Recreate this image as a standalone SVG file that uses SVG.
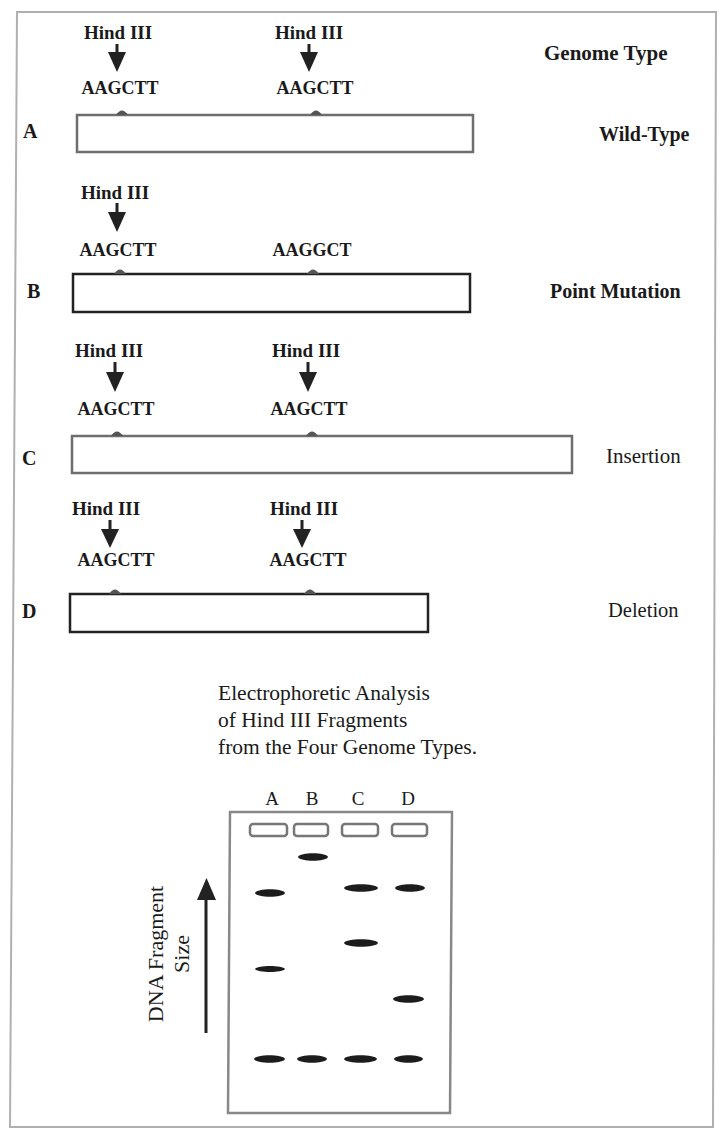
<svg xmlns="http://www.w3.org/2000/svg" width="722" height="1131" viewBox="0 0 722 1131">
<defs>
<style>
.t{font-family:"Liberation Serif","Times New Roman",serif;fill:#1a1a1a}
.b{font-weight:bold}
.site{font-family:"Liberation Serif","Times New Roman",serif;font-weight:bold;fill:#1a1a1a;text-anchor:middle}
.hind{font-size:19px}
.seq{font-size:18px}
.gen{fill:#fff;stroke-width:2.5}
.gray{stroke:#6e6e6e}
.dark{stroke:#222}
.bump{fill:#555}
.arr{fill:#222;stroke:none}
.shaft{stroke:#222;stroke-width:3}
.well{fill:#fff;stroke:#777;stroke-width:2.5}
.band{fill:#1c1c1c}
</style>
</defs>
<rect width="722" height="1131" fill="#fff"/>
<path d="M17,12 L716,12 L713,1127 L10,1127 Z" fill="none" stroke="#b0b0b0" stroke-width="2"/>

<g id="header">
<text class="t b" x="544" y="60" font-size="21">Genome Type</text>
</g>

<g id="genomeA">
<text class="t b" x="23" y="138" font-size="20">A</text>
<rect class="gen gray" x="77" y="115" width="396" height="37"/>
<path class="bump" d="M116,115 Q122,106 128,115 Z"/>
<path class="bump" d="M310,115 Q316,106 322,115 Z"/>
<text class="site hind" x="118" y="39">Hind III</text>
<text class="site hind" x="309" y="39">Hind III</text>
<text class="site seq" x="120" y="94">AAGCTT</text>
<text class="site seq" x="315" y="94">AAGCTT</text>
<text class="t b" x="599" y="141" font-size="20">Wild-Type</text>
</g>

<g id="genomeB">
<text class="t b" x="27" y="298" font-size="20">B</text>
<rect class="gen dark" x="73" y="274" width="397" height="38"/>
<path class="bump" d="M114,274 Q120,265 126,274 Z"/>
<path class="bump" d="M307,274 Q313,265 319,274 Z"/>
<text class="site hind" x="115" y="199">Hind III</text>
<text class="site seq" x="118" y="256">AAGCTT</text>
<text class="site seq" x="312" y="256">AAGGCT</text>
<text class="t b" x="550" y="298" font-size="20">Point Mutation</text>
</g>

<g id="genomeC">
<text class="t b" x="22" y="465" font-size="20">C</text>
<rect class="gen gray" x="72" y="436" width="500" height="37"/>
<path class="bump" d="M111,436 Q117,427 123,436 Z"/>
<path class="bump" d="M306,436 Q312,427 318,436 Z"/>
<text class="site hind" x="109" y="357">Hind III</text>
<text class="site hind" x="306" y="357">Hind III</text>
<text class="site seq" x="116" y="415">AAGCTT</text>
<text class="site seq" x="309" y="415">AAGCTT</text>
<text class="t" x="606" y="463" font-size="21">Insertion</text>
</g>

<g id="genomeD">
<text class="t b" x="22" y="618" font-size="20">D</text>
<rect class="gen dark" x="70" y="594" width="358" height="38"/>
<path class="bump" d="M109,594 Q115,585 121,594 Z"/>
<path class="bump" d="M304,594 Q310,585 316,594 Z"/>
<text class="site hind" x="106" y="515">Hind III</text>
<text class="site hind" x="304" y="515">Hind III</text>
<text class="site seq" x="116" y="566">AAGCTT</text>
<text class="site seq" x="308" y="566">AAGCTT</text>
<text class="t" x="608" y="617" font-size="20.5">Deletion</text>
</g>

<g id="connectors">
<line class="shaft" x1="117" y1="44" x2="117" y2="54"/><polygon class="arr" points="108,52 126,52 117,72"/>
<line class="shaft" x1="309" y1="44" x2="309" y2="54"/><polygon class="arr" points="300,52 318,52 309,72"/>
<line class="shaft" x1="117" y1="203" x2="117" y2="214"/><polygon class="arr" points="108,212 126,212 117,232"/>
<line class="shaft" x1="115" y1="362" x2="115" y2="374"/><polygon class="arr" points="106,372 124,372 115,392"/>
<line class="shaft" x1="308" y1="362" x2="308" y2="374"/><polygon class="arr" points="299,372 317,372 308,392"/>
<line class="shaft" x1="110" y1="520" x2="110" y2="531"/><polygon class="arr" points="101,529 119,529 110,548"/>
<line class="shaft" x1="302" y1="520" x2="302" y2="531"/><polygon class="arr" points="293,529 311,529 302,548"/>
<line x1="206" y1="1033" x2="206" y2="896" stroke="#222" stroke-width="3"/><polygon class="arr" points="197,900 216,900 206.5,878"/>
</g>

<g id="title">
<text class="t" x="218" y="700" font-size="21.5">Electrophoretic Analysis</text>
<text class="t" x="218" y="727" font-size="21.5">of Hind III Fragments</text>
<text class="t" x="218" y="754" font-size="21.5">from the Four Genome Types.</text>
</g>

<g id="axis-label">
<text class="t" transform="translate(163,954) rotate(-90)" text-anchor="middle" font-size="22">DNA Fragment</text>
<text class="t" transform="translate(189,954) rotate(-90)" text-anchor="middle" font-size="22">Size</text>
</g>

<g id="gel">
<text class="t" x="272" y="805" font-size="19" text-anchor="middle">A</text>
<text class="t" x="312" y="805" font-size="19" text-anchor="middle">B</text>
<text class="t" x="358" y="805" font-size="19" text-anchor="middle">C</text>
<text class="t" x="408" y="805" font-size="19" text-anchor="middle">D</text>
<path d="M230,812 L452,812 L450,1113 L228,1113 Z" fill="none" stroke="#888" stroke-width="2.5"/>
<rect class="well" x="250" y="824" width="37" height="12" rx="3"/>
<rect class="well" x="294" y="824" width="34" height="12" rx="3"/>
<rect class="well" x="342" y="824" width="36" height="12" rx="3"/>
<rect class="well" x="392" y="824" width="35" height="12" rx="3"/>
<path class="band" d="M298,857 C300,852 326,852 328,857 C326,862 300,862 298,857 Z"/>
<path class="band" d="M255,893 C257,888 283,888 285,893 C283,898 257,898 255,893 Z"/>
<path class="band" d="M344,888 C346,883 376,883 378,888 C376,893 346,893 344,888 Z"/>
<path class="band" d="M395,888 C397,883 423,883 425,888 C423,893 397,893 395,888 Z"/>
<path class="band" d="M344,943 C346,938 376,938 378,943 C376,948 346,948 344,943 Z"/>
<path class="band" d="M255,969 C257,965 283,965 285,969 C283,973 257,973 255,969 Z"/>
<path class="band" d="M393,999 C395,994 422,994 424,999 C422,1004 395,1004 393,999 Z"/>
<path class="band" d="M254,1059 C256,1054 283,1054 285,1059 C283,1064 256,1064 254,1059 Z"/>
<path class="band" d="M297,1059 C299,1054 325,1054 327,1059 C325,1064 299,1064 297,1059 Z"/>
<path class="band" d="M344,1059 C346,1054 375,1054 377,1059 C375,1064 346,1064 344,1059 Z"/>
<path class="band" d="M394,1059 C396,1054 421,1054 423,1059 C421,1064 396,1064 394,1059 Z"/>
</g>
</svg>
